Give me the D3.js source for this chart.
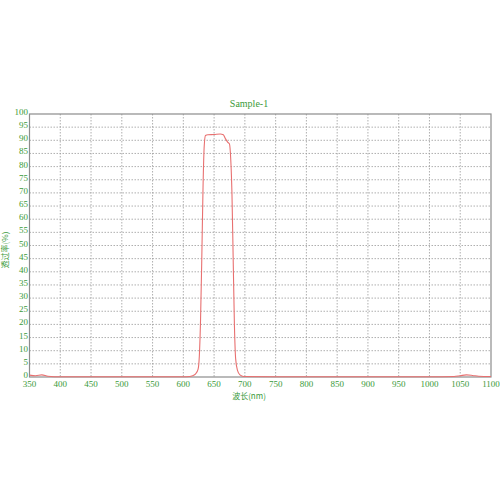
<!DOCTYPE html>
<html>
<head>
<meta charset="utf-8">
<script src="https://cdn.jsdelivr.net/npm/d3@7"></script>
<style>
body { margin: 0; background: #fff; }
.tick { font-family: "Liberation Serif", "Times New Roman", "DejaVu Serif", serif; font-size: 9px; fill: #3a9a3a; }
.label { font-family: "Noto Sans CJK SC", sans-serif; font-size: 8px; fill: #3a9a3a; }
</style>
</head>
<body>
<div id="drawing"></div>
<script>
"use strict"

/**** Configuration ****/
let svgWidth = 500
let svgHeight = 500
let plotLeft = 29.5
let plotRight = 491
let plotTop = 114
let plotBottom = 377

/**** DATA ****/
let wavelength = [350, 360, 370, 380, 400, 450, 500, 550, 600, 610, 615, 620, 624, 626, 628, 630, 632, 634, 636, 640, 650, 660, 665, 668, 672, 675, 677, 679, 681, 683, 685, 688, 692, 698, 750, 800, 850, 900, 950, 1000, 1040, 1050, 1060, 1070, 1080, 1100]
let transmittance = [0.7, 0.5, 0.8, 0.3, 0.1, 0.1, 0.1, 0.1, 0.1, 0.2, 0.5, 1.2, 3, 8, 22, 45, 72, 88, 91.8, 92.1, 92.2, 92.4, 92.1, 90.8, 89.3, 88.6, 83, 70, 45, 20, 7, 2.5, 0.8, 0.2, 0.1, 0.1, 0.1, 0.1, 0.1, 0.1, 0.2, 0.5, 0.8, 0.6, 0.3, 0.2]
let xTicks = d3.range(350, 1101, 50)
let yTicks = d3.range(0, 101, 5)
let title = "Sample-1"
let xLabel = "波长(nm)"
let yLabel = "透过率(%)"

let spectrum = wavelength.map((w, i) => ({ w: w, t: transmittance[i] }))

/**** CANVAS ****/
let svg = d3.select("#drawing")
.append("svg")
.attr("width", svgWidth)
.attr("height", svgHeight)

/**** SCALES ****/
let xScale = d3.scaleLinear()
.domain([350, 1100])
.range([plotLeft, plotRight])

let yScale = d3.scaleLinear()
.domain([0, 100])
.range([plotBottom, plotTop])

/**** GRID ****/
svg.selectAll("line.vgrid")
.data(xTicks.slice(1, -1))
.join("line")
.attr("class", "vgrid")
.attr("x1", d => xScale(d))
.attr("x2", d => xScale(d))
.attr("y1", plotTop)
.attr("y2", plotBottom)
.attr("stroke", "#9a9a9a")
.attr("stroke-width", 0.8)
.attr("stroke-dasharray", "1.5,1.5")

svg.selectAll("line.hgrid")
.data(yTicks.slice(1, -1))
.join("line")
.attr("class", "hgrid")
.attr("x1", plotLeft)
.attr("x2", plotRight)
.attr("y1", d => yScale(d))
.attr("y2", d => yScale(d))
.attr("stroke", "#9a9a9a")
.attr("stroke-width", 0.8)
.attr("stroke-dasharray", "1.5,1.5")

/* frame */
svg.append("rect")
.attr("x", plotLeft)
.attr("y", plotTop)
.attr("width", plotRight - plotLeft)
.attr("height", plotBottom - plotTop)
.attr("fill", "none")
.attr("stroke", "#8c8c8c")
.attr("stroke-width", 1.2)

/**** CURVE ****/
let line = d3.line()
.x(d => xScale(d.w))
.y(d => yScale(d.t))
.curve(d3.curveMonotoneX)

svg.append("path")
.datum(spectrum)
.attr("d", line)
.attr("fill", "none")
.attr("stroke", "#e87070")
.attr("stroke-width", 1.1)

/**** TICK LABELS ****/
svg.selectAll("text.xtick")
.data(xTicks)
.join("text")
.attr("class", "tick xtick")
.attr("x", d => xScale(d))
.attr("y", plotBottom + 10)
.style("text-anchor", "middle")
.text(d => d)

svg.selectAll("text.ytick")
.data(yTicks)
.join("text")
.attr("class", "tick ytick")
.attr("x", plotLeft - 1.5)
.attr("y", d => yScale(d) + 1)
.style("text-anchor", "end")
.text(d => d)

/**** TITLES ****/
svg.append("text")
.attr("class", "tick")
.attr("x", 249)
.attr("y", 107)
.style("text-anchor", "middle")
.style("font-size", "10px")
.text(title)

svg.append("text")
.attr("class", "label")
.attr("x", 249)
.attr("y", 399)
.style("text-anchor", "middle")
.text(xLabel)

svg.append("text")
.attr("class", "label")
.attr("transform", "translate(8,250) rotate(-90)")
.style("text-anchor", "middle")
.text(yLabel)
</script>
</body>
</html>
